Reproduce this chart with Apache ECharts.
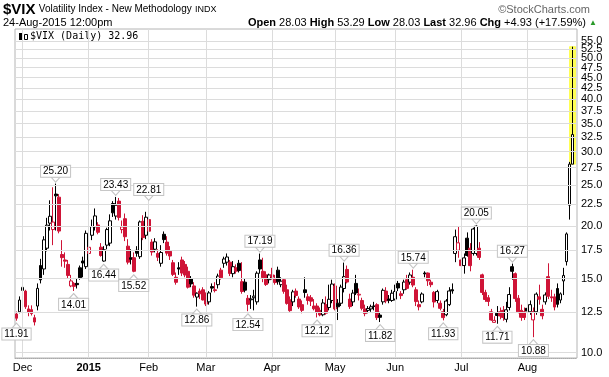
<!DOCTYPE html>
<html>
<head>
<meta charset="utf-8">
<script src="https://cdn.jsdelivr.net/npm/echarts@6/dist/echarts.min.js"></script>
<style>
  html, body { margin: 0; padding: 0; background: #fff; }
  #chart { width: 609px; height: 377px; }
</style>
</head>
<body>
<div id="chart"></div>
<script>
// trading days shown on the chart
const dates = [
  '2014-11-26', '2014-11-28',
  '2014-12-01', '2014-12-02', '2014-12-03', '2014-12-04', '2014-12-05', '2014-12-08', '2014-12-09', '2014-12-10', '2014-12-11', '2014-12-12', '2014-12-15', '2014-12-16', '2014-12-17', '2014-12-18', '2014-12-19', '2014-12-22', '2014-12-23', '2014-12-24', '2014-12-26', '2014-12-29', '2014-12-30', '2014-12-31',
  '2015-01-02', '2015-01-05', '2015-01-06', '2015-01-07', '2015-01-08', '2015-01-09', '2015-01-12', '2015-01-13', '2015-01-14', '2015-01-15', '2015-01-16', '2015-01-20', '2015-01-21', '2015-01-22', '2015-01-23', '2015-01-26', '2015-01-27', '2015-01-28', '2015-01-29', '2015-01-30',
  '2015-02-02', '2015-02-03', '2015-02-04', '2015-02-05', '2015-02-06', '2015-02-09', '2015-02-10', '2015-02-11', '2015-02-12', '2015-02-13', '2015-02-17', '2015-02-18', '2015-02-19', '2015-02-20', '2015-02-23', '2015-02-24', '2015-02-25', '2015-02-26', '2015-02-27',
  '2015-03-02', '2015-03-03', '2015-03-04', '2015-03-05', '2015-03-06', '2015-03-09', '2015-03-10', '2015-03-11', '2015-03-12', '2015-03-13', '2015-03-16', '2015-03-17', '2015-03-18', '2015-03-19', '2015-03-20', '2015-03-23', '2015-03-24', '2015-03-25', '2015-03-26', '2015-03-27', '2015-03-30', '2015-03-31',
  '2015-04-01', '2015-04-02', '2015-04-06', '2015-04-07', '2015-04-08', '2015-04-09', '2015-04-10', '2015-04-13', '2015-04-14', '2015-04-15', '2015-04-16', '2015-04-17', '2015-04-20', '2015-04-21', '2015-04-22', '2015-04-23', '2015-04-24', '2015-04-27', '2015-04-28', '2015-04-29', '2015-04-30',
  '2015-05-01', '2015-05-04', '2015-05-05', '2015-05-06', '2015-05-07', '2015-05-08', '2015-05-11', '2015-05-12', '2015-05-13', '2015-05-14', '2015-05-15', '2015-05-18', '2015-05-19', '2015-05-20', '2015-05-21', '2015-05-22', '2015-05-26', '2015-05-27', '2015-05-28', '2015-05-29',
  '2015-06-01', '2015-06-02', '2015-06-03', '2015-06-04', '2015-06-05', '2015-06-08', '2015-06-09', '2015-06-10', '2015-06-11', '2015-06-12', '2015-06-15', '2015-06-16', '2015-06-17', '2015-06-18', '2015-06-19', '2015-06-22', '2015-06-23', '2015-06-24', '2015-06-25', '2015-06-26', '2015-06-29', '2015-06-30',
  '2015-07-01', '2015-07-02', '2015-07-06', '2015-07-07', '2015-07-08', '2015-07-09', '2015-07-10', '2015-07-13', '2015-07-14', '2015-07-15', '2015-07-16', '2015-07-17', '2015-07-20', '2015-07-21', '2015-07-22', '2015-07-23', '2015-07-24', '2015-07-27', '2015-07-28', '2015-07-29', '2015-07-30', '2015-07-31',
  '2015-08-03', '2015-08-04', '2015-08-05', '2015-08-06', '2015-08-07', '2015-08-10', '2015-08-11', '2015-08-12', '2015-08-13', '2015-08-14', '2015-08-17', '2015-08-18', '2015-08-19', '2015-08-20', '2015-08-21', '2015-08-24'
];

const opens = [
  12.35, 12.50,
  14.05, 14.00, 12.70, 12.65, 12.10, 12.90, 16.10, 15.80, 17.70, 20.30, 19.60, 23.80, 23.40, 17.10, 16.60, 16.20, 14.40, 14.60, 14.60, 15.90, 16.50, 16.00,
  17.20, 19.00, 19.90, 20.10, 17.80, 16.50, 18.00, 18.20, 22.60, 21.10, 22.90, 19.60, 20.80, 17.90, 16.80, 16.80, 17.50, 16.90, 20.50, 19.00,
  20.70, 18.30, 17.60, 17.20, 16.30, 19.10, 18.30, 17.40, 16.35, 15.10, 15.90, 16.60, 16.20, 15.60, 15.00, 14.40, 13.55, 14.00, 14.10,
  13.70, 13.20, 14.35, 14.10, 14.50, 15.70, 16.30, 16.40, 16.40, 15.40, 15.90, 16.30, 14.74, 14.70, 13.46, 13.35, 13.50, 13.20, 16.60, 15.60, 15.30, 14.90,
  15.30, 15.00, 15.70, 14.50, 14.90, 14.10, 13.35, 13.20, 14.00, 13.40, 13.00, 14.10, 13.57, 13.50, 12.90, 12.90, 12.60, 12.30, 13.00, 12.80, 13.30,
  14.40, 13.10, 13.10, 14.20, 15.76, 13.40, 13.20, 14.60, 13.70, 13.30, 12.70, 12.60, 12.70, 12.90, 13.00, 12.28, 13.20, 14.00, 13.40, 13.30,
  13.40, 14.60, 13.80, 14.10, 14.90, 14.70, 15.10, 14.10, 13.00, 13.20, 15.45, 15.45, 14.70, 13.90, 13.30, 13.10, 12.50, 12.30, 13.00, 14.10, 17.20, 17.50,
  16.60, 16.10, 18.70, 17.70, 17.20, 17.20, 17.70, 15.30, 13.90, 13.50, 12.50, 11.80, 12.40, 12.50, 12.60, 12.00, 12.80, 16.00, 15.40, 13.46, 12.60, 12.50,
  12.74, 12.50, 11.96, 12.50, 13.57, 12.67, 13.20, 15.15, 13.57, 13.57, 14.20, 13.33, 14.80, 16.45, 22.40, 28.03
];

const highs = [
  12.52, 13.60,
  14.62, 14.10, 12.95, 12.95, 12.30, 14.60, 16.70, 18.90, 20.90, 23.00, 24.70, 25.20, 23.80, 18.50, 17.30, 16.60, 15.30, 14.70, 15.00, 16.10, 16.90, 19.50,
  20.50, 20.70, 22.00, 20.40, 18.20, 17.90, 19.80, 21.30, 22.90, 23.43, 23.30, 20.60, 21.40, 18.60, 17.60, 17.30, 17.90, 20.60, 21.20, 21.60,
  22.81, 18.60, 18.70, 17.60, 18.00, 19.40, 18.90, 17.90, 16.60, 15.50, 16.40, 16.90, 16.50, 16.00, 15.20, 14.70, 13.90, 14.20, 14.30,
  13.90, 14.00, 14.60, 14.70, 15.40, 15.90, 16.90, 17.20, 16.60, 16.50, 16.20, 16.60, 16.40, 15.00, 13.70, 13.70, 14.10, 15.60, 17.19, 16.80, 15.60, 15.40,
  15.90, 15.30, 16.00, 15.10, 15.00, 14.50, 13.60, 14.10, 14.20, 13.60, 13.30, 15.10, 13.80, 13.70, 13.40, 13.10, 12.80, 13.40, 13.60, 14.50, 14.90,
  14.60, 13.40, 14.50, 16.36, 16.10, 13.80, 14.10, 15.30, 14.20, 13.50, 13.00, 12.90, 13.00, 13.20, 13.10, 12.50, 14.20, 14.30, 13.70, 14.10,
  14.50, 14.80, 14.00, 14.90, 15.30, 15.50, 15.74, 14.30, 13.30, 13.90, 15.60, 15.50, 14.90, 14.00, 14.10, 13.30, 12.70, 13.40, 14.30, 14.60, 19.60, 19.90,
  17.10, 17.20, 19.30, 18.20, 19.80, 20.05, 18.30, 15.40, 14.10, 13.70, 12.70, 12.20, 12.90, 12.80, 12.90, 13.20, 14.30, 16.27, 15.50, 13.70, 13.00, 12.80,
  13.10, 13.30, 12.80, 13.90, 14.50, 13.00, 13.90, 16.30, 14.10, 13.80, 14.60, 13.90, 15.90, 19.30, 28.38, 53.29
];

const lows = [
  11.91, 12.40,
  13.83, 12.70, 12.20, 12.25, 11.60, 12.60, 14.60, 15.30, 17.40, 19.50, 18.00, 19.50, 19.20, 16.00, 15.90, 15.00, 14.30, 14.01, 14.20, 14.90, 15.10, 15.80,
  16.80, 18.50, 19.50, 19.10, 16.90, 16.44, 17.60, 17.90, 21.00, 20.70, 20.60, 19.20, 18.40, 16.20, 16.20, 15.52, 16.90, 16.70, 18.50, 18.60,
  19.00, 17.00, 17.30, 16.50, 16.00, 18.20, 17.00, 16.60, 15.20, 14.50, 15.30, 15.20, 15.10, 14.20, 14.30, 13.50, 12.86, 13.40, 13.30,
  12.90, 13.00, 13.90, 13.90, 14.20, 14.90, 15.90, 16.10, 15.20, 15.10, 15.40, 15.50, 13.80, 13.90, 12.54, 12.70, 12.60, 13.00, 15.40, 14.70, 14.40, 14.60,
  14.90, 14.50, 14.50, 14.30, 13.80, 13.00, 12.50, 12.90, 13.50, 12.70, 12.40, 13.50, 13.00, 12.90, 12.60, 12.12, 12.20, 12.20, 12.30, 12.60, 13.10,
  12.60, 11.95, 12.90, 13.90, 14.60, 12.70, 12.90, 13.70, 13.30, 12.60, 12.20, 12.40, 12.50, 12.60, 11.95, 11.82, 13.00, 13.10, 13.10, 13.20,
  13.30, 14.00, 13.40, 13.80, 14.10, 14.50, 14.30, 12.90, 12.60, 13.10, 15.10, 14.40, 14.30, 12.80, 13.10, 12.60, 11.93, 12.20, 12.90, 13.80, 16.40, 16.80,
  15.90, 15.40, 16.90, 15.60, 17.00, 17.00, 16.60, 13.70, 13.20, 12.90, 11.90, 11.78, 11.71, 12.00, 11.90, 11.80, 12.60, 14.90, 13.20, 12.40, 11.90, 11.95,
  12.30, 12.30, 10.88, 12.30, 13.00, 12.00, 13.00, 13.40, 13.20, 12.60, 12.80, 13.10, 13.70, 16.10, 20.70, 28.03
];

const closes = [
  12.07, 13.33,
  14.29, 12.85, 12.47, 12.38, 11.82, 14.21, 14.89, 18.53, 20.08, 21.08, 20.42, 23.57, 19.44, 16.81, 16.49, 15.25, 14.80, 14.37, 14.50, 15.06, 16.33, 19.20,
  17.79, 19.92, 21.12, 19.31, 17.01, 17.55, 19.60, 20.56, 21.48, 22.39, 20.95, 19.89, 18.85, 16.40, 16.66, 15.60, 17.22, 20.44, 18.76, 20.97,
  19.43, 17.33, 18.33, 16.85, 17.29, 18.55, 17.23, 16.96, 15.34, 14.69, 15.80, 15.45, 15.29, 14.30, 14.56, 13.69, 13.84, 13.80, 13.34,
  13.04, 13.86, 14.23, 14.04, 15.20, 15.06, 16.69, 16.87, 15.42, 16.00, 15.61, 15.66, 13.97, 14.07, 13.02, 13.41, 13.62, 15.44, 15.80, 15.07, 14.51, 15.29,
  15.11, 14.67, 14.74, 14.78, 13.98, 13.09, 12.58, 13.94, 13.67, 12.84, 12.60, 13.89, 13.30, 13.25, 12.71, 12.48, 12.29, 13.12, 12.41, 13.39, 14.55,
  12.70, 12.85, 14.31, 15.15, 14.71, 12.86, 13.85, 13.86, 13.76, 12.74, 12.38, 12.73, 12.85, 12.88, 12.11, 12.13, 14.06, 13.27, 13.31, 13.84,
  13.97, 14.24, 13.66, 14.71, 14.21, 15.29, 14.47, 13.22, 12.85, 13.78, 15.39, 14.81, 14.50, 13.19, 13.96, 12.74, 12.11, 13.26, 14.01, 14.02, 18.85, 18.23,
  16.09, 16.79, 17.01, 16.09, 19.66, 19.97, 16.83, 13.90, 13.37, 13.23, 11.95, 11.93, 12.25, 12.22, 12.12, 12.64, 13.74, 15.60, 13.44, 12.50, 12.13, 12.12,
  12.56, 13.00, 12.51, 13.77, 13.39, 12.23, 13.71, 13.61, 13.49, 12.83, 13.02, 13.79, 15.25, 19.14, 28.03, 32.96
];
const prevClose = 12.25; // close before the first bar

const yTicks = [10, 12.5, 15, 17.5, 20, 22.5, 25, 27.5, 30, 32.5, 35, 37.5, 40, 42.5, 45, 47.5, 50, 52.5, 55];
const monthStarts = ['2014-12-01', '2015-01-02', '2015-02-02', '2015-03-02', '2015-04-01', '2015-05-01', '2015-06-01', '2015-07-01', '2015-08-03'];
const monthNames = ['Dec', '2015', 'Feb', 'Mar', 'Apr', 'May', 'Jun', 'Jul', 'Aug'];

// swing high / low annotations
const noteDates = ['2014-11-26', '2014-12-16', '2014-12-24', '2015-01-09', '2015-01-15', '2015-01-26', '2015-02-02', '2015-02-25', '2015-03-20', '2015-03-26',
  '2015-04-23', '2015-05-06', '2015-05-22', '2015-06-09', '2015-06-23', '2015-07-09', '2015-07-20', '2015-07-27', '2015-08-05'];
const noteKinds = ['low', 'high', 'low', 'low', 'high', 'low', 'high', 'low', 'low', 'high',
  'low', 'high', 'low', 'high', 'low', 'high', 'low', 'high', 'low'];

const RED = '#cf1437';
const FONT = 'Liberation Sans';

const candles = dates.map((d, i) => {
  const o = opens[i], c = closes[i];
  const prev = i > 0 ? closes[i - 1] : prevClose;
  const col = c < prev ? RED : '#000';
  const fill = c > o ? '#fff' : col;
  return {
    value: [o, c, lows[i], highs[i]],
    itemStyle: { color: fill, color0: fill, borderColor: col, borderColor0: col }
  };
});

const last = dates.length - 1;
const highlight = dates.map((d, i) => i === last ? [lows[i], highs[i], lows[i], highs[i]] : '-');

const notePoints = noteDates.map((d, k) => {
  const i = dates.indexOf(d);
  const isHigh = noteKinds[k] === 'high';
  const v = isHigh ? highs[i] : lows[i];
  return {
    coord: [d, v],
    value: v,
    symbol: 'triangle',
    symbolSize: [9, 5],
    symbolRotate: isHigh ? 180 : 0,
    symbolOffset: [0, isHigh ? -4 : 5],
    label: { position: isHigh ? 'top' : 'bottom', distance: 0 }
  };
});

const chart = echarts.init(document.getElementById('chart'));

const chg = closes[last] - closes[last - 1];
const pct = chg / closes[last - 1] * 100;

chart.setOption({
  animation: false,
  backgroundColor: '#fff',
  grid: { left: 15, right: 32, top: 29, bottom: 19, show: true, borderColor: '#b4b4b4', borderWidth: 1 },
  xAxis: {
    type: 'category',
    data: dates.concat(['']),
    boundaryGap: true,
    axisLine: { lineStyle: { color: '#aaa', type: 'dotted' } },
    axisTick: { show: false },
    splitLine: { show: false },
    axisLabel: {
      interval: (idx, val) => monthStarts.includes(val),
      formatter: (val) => {
        const n = monthNames[monthStarts.indexOf(val)];
        return n === '2015' ? '{b|' + n + '}' : n;
      },
      margin: 4,
      fontFamily: FONT,
      fontSize: 11,
      color: '#000',
      rich: { b: { fontWeight: 'bold', fontSize: 11, fontFamily: FONT, color: '#000' } }
    }
  },
  yAxis: {
    type: 'log',
    logBase: 10,
    min: 9.71,
    max: 58.7,
    position: 'right',
    axisLine: { show: false },
    axisTick: { show: false },
    axisLabel: { show: false },
    splitLine: { show: false }
  },
  series: [
    {
      name: 'grid',
      type: 'line',
      data: [],
      z: 1,
      silent: true,
      markLine: {
        silent: true,
        symbol: 'none',
        animation: false,
        lineStyle: { color: '#dcdcdc', width: 1, type: 'solid' },
        label: {
          show: true,
          position: 'end',
          distance: 4,
          formatter: (p) => p.value.toFixed(1),
          fontFamily: FONT,
          fontSize: 11,
          color: '#000'
        },
        data: yTicks.map(v => ({ yAxis: v }))
          .concat(monthStarts.map(d => ({ xAxis: d, label: { show: false } })))
      }
    },
    {
      name: 'highlight',
      type: 'candlestick',
      data: highlight,
      barWidth: 6,
      z: 2,
      silent: true,
      itemStyle: { color: '#ffff55', color0: '#ffff55', borderColor: '#ffff55', borderColor0: '#ffff55', borderWidth: 1 }
    },
    {
      name: '$VIX',
      type: 'candlestick',
      data: candles,
      barWidth: 3.4,
      z: 3,
      itemStyle: { borderWidth: 1 },
      markPoint: {
        silent: true,
        animation: false,
        itemStyle: { color: '#fff', borderColor: '#c4c4c4', borderWidth: 1 },
        label: {
          show: true,
          formatter: (p) => p.value.toFixed(2),
          fontFamily: FONT,
          fontSize: 10,
          color: '#000',
          backgroundColor: '#fff',
          borderColor: '#c4c4c4',
          borderWidth: 1,
          padding: [1, 2, 0, 2]
        },
        data: notePoints
      }
    }
  ],
  graphic: [
    {
      type: 'text', left: 3, top: 2,
      style: {
        text: '{a|$VIX} {b|Volatility Index - New Methodology} {c|INDX}',
        rich: {
          a: { fontFamily: FONT, fontSize: 15, fontWeight: 'bold', fill: '#000' },
          b: { fontFamily: FONT, fontSize: 10, fill: '#000' },
          c: { fontFamily: FONT, fontSize: 9, fill: '#000' }
        }
      }
    },
    {
      type: 'text', right: 19, top: 4,
      style: { text: '\u00a9StockCharts.com', fontFamily: FONT, fontSize: 11, fill: '#666' }
    },
    {
      type: 'text', left: 3, top: 17,
      style: { text: '24-Aug-2015 12:00pm', fontFamily: FONT, fontSize: 11, fill: '#000' }
    },
    {
      type: 'text', right: 12, top: 17,
      style: {
        text: '{k|Open} ' + opens[last].toFixed(2) + ' {k|High} ' + highs[last].toFixed(2) +
          ' {k|Low} ' + lows[last].toFixed(2) + ' {k|Last} ' + closes[last].toFixed(2) +
          ' {k|Chg} +' + chg.toFixed(2) + ' (+' + pct.toFixed(2) + '%) {g|\u25b2}',
        fontFamily: FONT, fontSize: 11, fill: '#000',
        rich: {
          k: { fontFamily: FONT, fontSize: 11, fontWeight: 'bold', fill: '#000' },
          g: { fontFamily: FONT, fontSize: 8, fill: '#2a9a2a' }
        }
      }
    },
    {
      type: 'text', left: 30, top: 31,
      style: { text: '$VIX (Daily) ' + closes[last].toFixed(2), fontFamily: 'DejaVu Sans Mono', fontSize: 10, fill: '#000' }
    },
    { type: 'rect', left: 19, top: 33, shape: { width: 3, height: 7 }, style: { fill: '#000' } },
    { type: 'rect', left: 24, top: 34, shape: { width: 3, height: 5 }, style: { fill: '#fff', stroke: '#000', lineWidth: 1 } }
  ]
});
</script>
</body>
</html>
